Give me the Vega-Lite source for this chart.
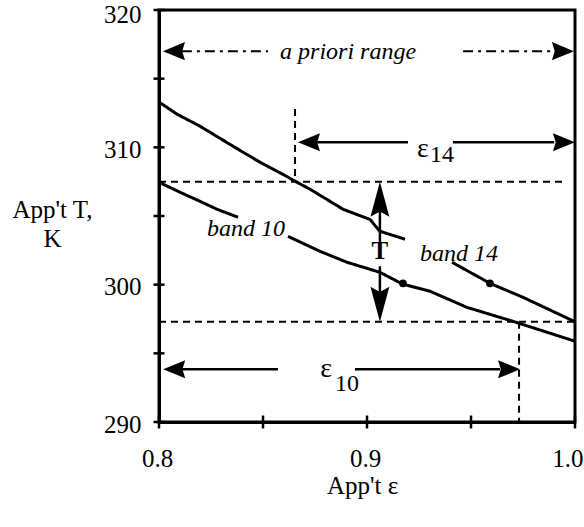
{
  "$schema": "https://vega.github.io/schema/vega-lite/v6.json",
  "width": 416,
  "height": 412,
  "autosize": {"type": "none"},
  "padding": {"left": 159, "top": 10, "right": 9, "bottom": 105},
  "view": {"stroke": "black", "strokeWidth": 3},
  "config": {"view": {"stroke": "black", "strokeWidth": 3}, "font": "Liberation Serif"},
  "datasets": {
    "curves": [
      {"band": "14", "seg": "a", "x": 0.8, "y": 313.3},
      {"band": "14", "seg": "a", "x": 0.8087, "y": 312.41},
      {"band": "14", "seg": "a", "x": 0.8197, "y": 311.54},
      {"band": "14", "seg": "a", "x": 0.8356, "y": 310.08},
      {"band": "14", "seg": "a", "x": 0.8486, "y": 308.91},
      {"band": "14", "seg": "a", "x": 0.8596, "y": 308.03},
      {"band": "14", "seg": "a", "x": 0.8663, "y": 307.46},
      {"band": "14", "seg": "a", "x": 0.8726, "y": 306.95},
      {"band": "14", "seg": "a", "x": 0.8885, "y": 305.49},
      {"band": "14", "seg": "a", "x": 0.9014, "y": 304.75},
      {"band": "14", "seg": "a", "x": 0.9062, "y": 303.89},
      {"band": "14", "seg": "a", "x": 0.9183, "y": 303.31},
      {"band": "14", "seg": "b", "x": 0.9409, "y": 301.63},
      {"band": "14", "seg": "b", "x": 0.9591, "y": 300.1},
      {"band": "14", "seg": "b", "x": 0.975, "y": 299.08},
      {"band": "14", "seg": "b", "x": 1.0, "y": 297.3},
      {"band": "10", "seg": "a", "x": 0.8, "y": 307.46},
      {"band": "10", "seg": "a", "x": 0.8101, "y": 306.73},
      {"band": "10", "seg": "a", "x": 0.8197, "y": 306.07},
      {"band": "10", "seg": "a", "x": 0.8279, "y": 305.49},
      {"band": "10", "seg": "a", "x": 0.838, "y": 304.91},
      {"band": "10", "seg": "b", "x": 0.862, "y": 303.52},
      {"band": "10", "seg": "b", "x": 0.8774, "y": 302.43},
      {"band": "10", "seg": "b", "x": 0.8904, "y": 301.63},
      {"band": "10", "seg": "b", "x": 0.9062, "y": 300.9},
      {"band": "10", "seg": "b", "x": 0.9173, "y": 300.03},
      {"band": "10", "seg": "b", "x": 0.9303, "y": 299.52},
      {"band": "10", "seg": "b", "x": 0.948, "y": 298.35},
      {"band": "10", "seg": "b", "x": 0.9702, "y": 297.33},
      {"band": "10", "seg": "b", "x": 1.0, "y": 295.88}
    ],
    "dots": [
      {"x": 0.9173, "y": 300.1},
      {"x": 0.9591, "y": 300.1}
    ],
    "dashed": [
      {"x": 0.8, "x2": 0.996, "y": 307.5, "y2": 307.5},
      {"x": 0.8, "x2": 1.0, "y": 297.3, "y2": 297.3},
      {"x": 0.8654, "x2": 0.8654, "y": 312.8, "y2": 307.5},
      {"x": 0.9731, "x2": 0.9731, "y": 297.3, "y2": 290}
    ],
    "dashdot": [
      {"x": 0.811, "x2": 0.8524, "y": 317.0, "y2": 317.0},
      {"x": 0.9462, "x2": 0.99, "y": 317.0, "y2": 317.0}
    ],
    "shafts": [
      {"x": 0.876, "x2": 0.9197, "y": 310.37, "y2": 310.37},
      {"x": 0.9413, "x2": 0.99, "y": 310.37, "y2": 310.37},
      {"x": 0.811, "x2": 0.8572, "y": 293.84, "y2": 293.84},
      {"x": 0.8942, "x2": 0.964, "y": 293.84, "y2": 293.84},
      {"x": 0.9062, "x2": 0.9062, "y": 305.5, "y2": 302.94},
      {"x": 0.9062, "x2": 0.9062, "y": 301.34, "y2": 299.3}
    ],
    "heads": [
      {"x": 0.8019, "y": 317.0, "dir": "left"},
      {"x": 0.9995, "y": 317.0, "dir": "right"},
      {"x": 0.8668, "y": 310.37, "dir": "left"},
      {"x": 1.0, "y": 310.37, "dir": "right"},
      {"x": 0.802, "y": 293.84, "dir": "left"},
      {"x": 0.9736, "y": 293.84, "dir": "right"},
      {"x": 0.9062, "y": 307.5, "dir": "up"},
      {"x": 0.9062, "y": 297.3, "dir": "down"}
    ],
    "yticks": [
      {"x": 0.8, "y": 290}, {"x": 0.8, "y": 295}, {"x": 0.8, "y": 300},
      {"x": 0.8, "y": 305}, {"x": 0.8, "y": 310}, {"x": 0.8, "y": 315}, {"x": 0.8, "y": 320}
    ],
    "xticks": [
      {"x": 0.8, "y": 290}, {"x": 0.85, "y": 290}, {"x": 0.9, "y": 290},
      {"x": 0.95, "y": 290}, {"x": 1.0, "y": 290}
    ],
    "labels": [
      {"x": 0.8582, "y": 316.42, "text": "a priori range", "kind": "italic"},
      {"x": 0.8231, "y": 303.52, "text": "band 10", "kind": "italic"},
      {"x": 0.9255, "y": 301.7, "text": "band 14", "kind": "italic"},
      {"x": 0.9062, "y": 301.85, "text": "T", "kind": "bold"},
      {"x": 0.9269, "y": 309.28, "text": "ε", "kind": "greek"},
      {"x": 0.9303, "y": 308.91, "text": "14", "kind": "sub"},
      {"x": 0.8803, "y": 293.26, "text": "ε", "kind": "greek"},
      {"x": 0.8846, "y": 292.24, "text": "10", "kind": "sub"}
    ]
  },
  "encoding": {
    "x": {
      "field": "x", "type": "quantitative",
      "scale": {"domain": [0.8, 1.0], "nice": false, "zero": false},
      "axis": {
        "values": [0.8, 0.9, 1.0], "format": ".1f", "ticks": false, "tickSize": 0,
        "domain": true, "domainWidth": 3, "domainColor": "black", "grid": false,
        "labelFont": "Liberation Serif", "labelFontSize": 25, "labelColor": "black",
        "labelPadding": 44, "labelBaseline": "alphabetic", "labelFlush": false, "labelOverlap": false,
        "labelAlign": {"condition": {"test": "datum.value >= 0.99", "value": "right"}, "value": "center"},
        "labelOffset": {"condition": {"test": "datum.value >= 0.99", "value": 8}, "value": -2},
        "title": "App't ε", "titleFont": "Liberation Serif", "titleFontSize": 25,
        "titleFontWeight": "normal", "titleColor": "black",
        "titleX": 203, "titleY": 71, "titleBaseline": "alphabetic", "titleAlign": "center"
      }
    },
    "y": {
      "field": "y", "type": "quantitative",
      "scale": {"domain": [290, 320], "nice": false, "zero": false},
      "axis": {
        "values": [290, 300, 310, 320], "format": "d", "ticks": false, "tickSize": 0,
        "domain": true, "domainWidth": 3, "domainColor": "black", "grid": false,
        "labelFont": "Liberation Serif", "labelFontSize": 25, "labelColor": "black",
        "labelPadding": 18, "labelBaseline": "middle", "labelFlush": false, "labelOverlap": false,
        "labelOffset": {"condition": {"test": "datum.value >= 319", "value": 4}, "value": 2},
        "title": ["App't T,", "K"], "titleFont": "Liberation Serif", "titleFontSize": 25,
        "titleFontWeight": "normal", "titleColor": "black", "titleAngle": 0,
        "titleX": -107, "titleY": 207, "titleBaseline": "alphabetic", "titleAlign": "center",
        "titleLineHeight": 29
      }
    }
  },
  "layer": [
    {
      "data": {"name": "dashed"},
      "mark": {"type": "rule", "color": "black", "strokeWidth": 2, "strokeDash": [7, 5]},
      "encoding": {"x2": {"field": "x2"}, "y2": {"field": "y2"}}
    },
    {
      "data": {"name": "dashdot"},
      "mark": {"type": "rule", "color": "black", "strokeWidth": 2, "strokeDash": [10, 5, 3, 5]},
      "encoding": {"x2": {"field": "x2"}, "y2": {"field": "y2"}}
    },
    {
      "data": {"name": "shafts"},
      "mark": {"type": "rule", "color": "black", "strokeWidth": 2.5},
      "encoding": {"x2": {"field": "x2"}, "y2": {"field": "y2"}}
    },
    {
      "data": {"name": "curves"},
      "mark": {"type": "line", "color": "black", "strokeWidth": 3},
      "encoding": {"detail": {"field": "band"}, "strokeDash": {"field": "seg", "type": "nominal", "legend": null, "scale": {"range": [[1, 0], [1, 0]]}}}
    },
    {
      "data": {"name": "dots"},
      "mark": {"type": "point", "filled": true, "color": "black", "opacity": 1, "size": 60}
    },
    {
      "data": {"name": "heads"},
      "mark": {"type": "point", "filled": true, "color": "black", "opacity": 1, "size": 4900, "strokeWidth": 0},
      "encoding": {
        "shape": {
          "field": "dir", "type": "nominal", "legend": null,
          "scale": {
            "domain": ["left", "right", "up", "down"],
            "range": [
              "M0,0L0.63,-0.26L0.55,0L0.63,0.26Z",
              "M0,0L-0.63,-0.26L-0.55,0L-0.63,0.26Z",
              "M0,0L-0.27,1L0,0.85L0.27,1Z",
              "M0,0L-0.27,-1L0,-0.85L0.27,-1Z"
            ]
          }
        }
      }
    },
    {
      "data": {"name": "yticks"},
      "mark": {"type": "tick", "orient": "horizontal", "color": "black", "size": 11, "thickness": 2.5, "opacity": 1}
    },
    {
      "data": {"name": "xticks"},
      "mark": {"type": "tick", "orient": "vertical", "color": "black", "size": 13, "thickness": 2.5, "opacity": 1}
    },
    {
      "data": {"name": "labels"},
      "transform": [{"filter": "datum.kind == 'italic'"}],
      "mark": {"type": "text", "font": "Liberation Serif", "fontStyle": "italic", "fontSize": 24, "align": "left", "baseline": "alphabetic", "color": "black"},
      "encoding": {"text": {"field": "text"}}
    },
    {
      "data": {"name": "labels"},
      "transform": [{"filter": "datum.kind == 'bold'"}],
      "mark": {"type": "text", "font": "Liberation Serif", "fontWeight": "bold", "fontSize": 25, "align": "center", "baseline": "alphabetic", "color": "black"},
      "encoding": {"text": {"field": "text"}}
    },
    {
      "data": {"name": "labels"},
      "transform": [{"filter": "datum.kind == 'greek'"}],
      "mark": {"type": "text", "font": "Liberation Serif", "fontSize": 28, "align": "center", "baseline": "alphabetic", "color": "black"},
      "encoding": {"text": {"field": "text"}}
    },
    {
      "data": {"name": "labels"},
      "transform": [{"filter": "datum.kind == 'sub'"}],
      "mark": {"type": "text", "font": "Liberation Serif", "fontSize": 24, "align": "left", "baseline": "alphabetic", "color": "black"},
      "encoding": {"text": {"field": "text"}}
    }
  ]
}
